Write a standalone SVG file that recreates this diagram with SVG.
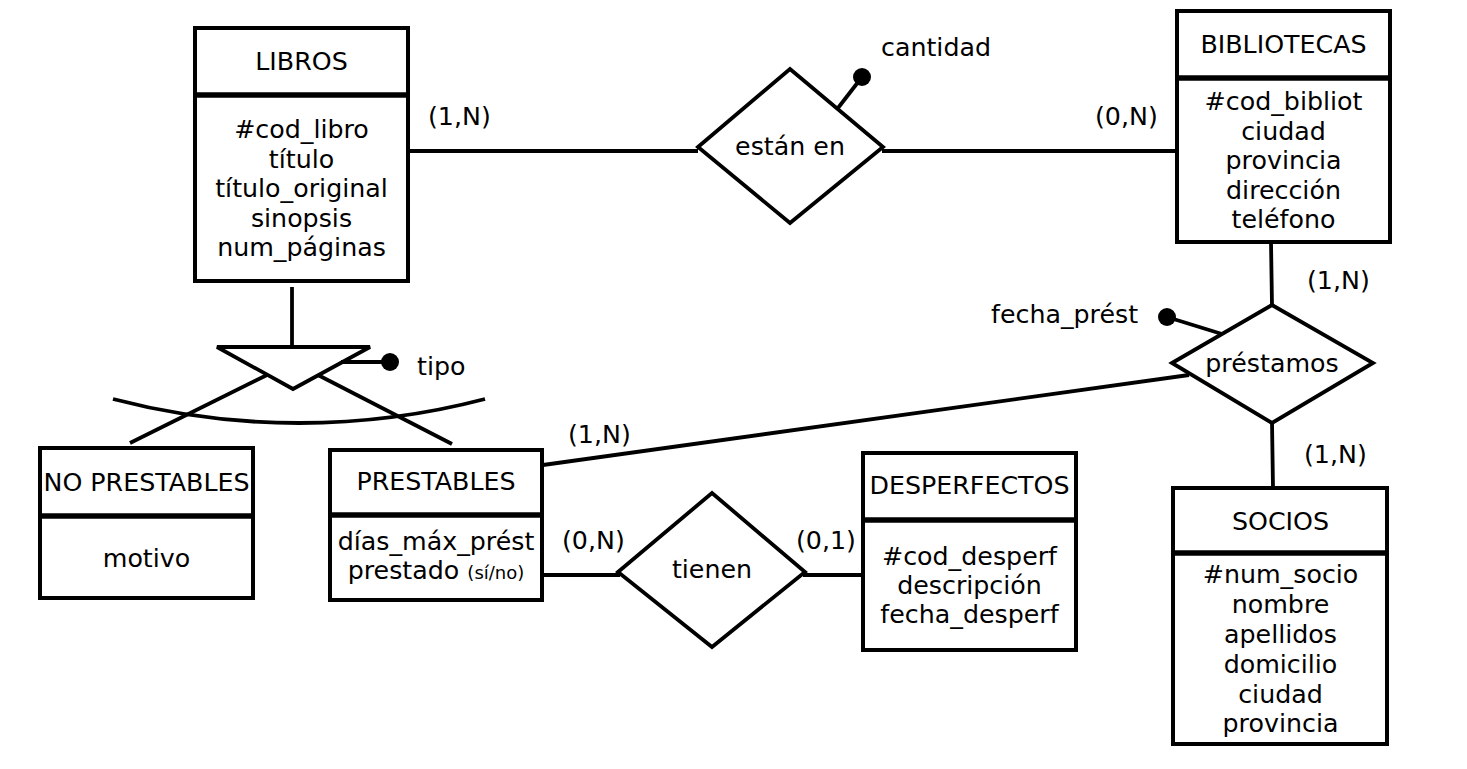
<svg xmlns="http://www.w3.org/2000/svg" width="1467" height="769" viewBox="0 0 1467 769">
<style>
text{font-family:"DejaVu Sans","Liberation Sans",sans-serif;font-size:25.3px;fill:#000}
.c{text-anchor:middle}
.box{fill:#fff;stroke:#000;stroke-width:4}
.div{stroke:#000;stroke-width:5.5}
.ln{stroke:#000;stroke-width:3.8;fill:none}
.dia{fill:#fff;stroke:#000;stroke-width:3.8;stroke-linejoin:miter}
.dot{fill:#000}
.sm{font-size:18px}
</style>
<rect width="1467" height="769" fill="#fff"/>
<g id="connectors">
<line class="ln" x1="408" y1="151" x2="698" y2="151"/>
<line class="ln" x1="882" y1="151" x2="1177" y2="151"/>
<line class="ln" x1="838" y1="108" x2="862" y2="77"/>
<line class="ln" x1="1271" y1="242" x2="1272" y2="306"/>
<line class="ln" x1="1272" y1="422" x2="1273" y2="488"/>
<line class="ln" x1="1167" y1="317" x2="1222" y2="334"/>
<line class="ln" x1="543" y1="465" x2="1189" y2="375"/>
<line class="ln" x1="542" y1="575" x2="620" y2="575"/>
<line class="ln" x1="803" y1="575" x2="863" y2="575"/>
<line class="ln" x1="292" y1="287" x2="292" y2="347"/>
<line class="ln" x1="267" y1="375" x2="130" y2="443"/>
<line class="ln" x1="318" y1="375" x2="452" y2="444"/>
<line class="ln" x1="337" y1="362" x2="390" y2="362"/>
<path class="ln" d="M113 399 A733 733 0 0 0 485 399"/>
</g>
<g id="isa">
<polygon class="dia" points="217,347 370,347 293,389"/>
<line class="ln" x1="341" y1="362" x2="390" y2="362"/>
<circle class="dot" cx="390" cy="362" r="9"/>
<text x="417" y="375">tipo</text>
</g>
<g id="libros">
<rect class="box" x="195" y="28" width="213" height="253"/>
<line class="div" x1="195" y1="95" x2="408" y2="95"/>
<text class="c" x="301.5" y="70">LIBROS</text>
<text class="c" x="301.5" y="138">#cod_libro</text>
<text class="c" x="301.5" y="167.5">título</text>
<text class="c" x="301.5" y="197">título_original</text>
<text class="c" x="301.5" y="226.5">sinopsis</text>
<text class="c" x="301.5" y="256">num_páginas</text>
</g>
<g id="bibliotecas">
<rect class="box" x="1177" y="11" width="213" height="231"/>
<line class="div" x1="1177" y1="78" x2="1390" y2="78"/>
<text class="c" x="1283.5" y="53">BIBLIOTECAS</text>
<text class="c" x="1283.5" y="110">#cod_bibliot</text>
<text class="c" x="1283.5" y="139.5">ciudad</text>
<text class="c" x="1283.5" y="169">provincia</text>
<text class="c" x="1283.5" y="198.5">dirección</text>
<text class="c" x="1283.5" y="228">teléfono</text>
</g>
<g id="estan_en">
<polygon class="dia" points="698,147 790,69 883,147 790,223"/>
<text class="c" x="790" y="155">están en</text>
<circle class="dot" cx="862" cy="77" r="9"/>
<text x="881" y="56">cantidad</text>
</g>
<g id="prestamos">
<polygon class="dia" points="1172,363 1272,305 1373,363 1272,423"/>
<text class="c" x="1272" y="372">préstamos</text>
<circle class="dot" cx="1167" cy="317" r="9"/>
<text x="991" y="323">fecha_prést</text>
</g>
<g id="socios">
<rect class="box" x="1173" y="488" width="214" height="256"/>
<line class="div" x1="1173" y1="553" x2="1387" y2="553"/>
<text class="c" x="1280.5" y="530">SOCIOS</text>
<text class="c" x="1280.5" y="583">#num_socio</text>
<text class="c" x="1280.5" y="613">nombre</text>
<text class="c" x="1280.5" y="643">apellidos</text>
<text class="c" x="1280.5" y="673">domicilio</text>
<text class="c" x="1280.5" y="702.5">ciudad</text>
<text class="c" x="1280.5" y="732">provincia</text>
</g>
<g id="no_prestables">
<rect class="box" x="40" y="448" width="213" height="150"/>
<line class="div" x1="40" y1="516" x2="253" y2="516"/>
<text class="c" x="146.5" y="491">NO PRESTABLES</text>
<text class="c" x="146.5" y="567">motivo</text>
</g>
<g id="prestables">
<rect class="box" x="330" y="450" width="212" height="150"/>
<line class="div" x1="330" y1="515" x2="542" y2="515"/>
<text class="c" x="436" y="490">PRESTABLES</text>
<text class="c" x="436" y="550">días_máx_prést</text>
<text class="c" x="436" y="579">prestado <tspan class="sm">(sí/no)</tspan></text>
</g>
<g id="tienen">
<polygon class="dia" points="618,572 712,493 805,572 712,647"/>
<text class="c" x="712" y="578">tienen</text>
</g>
<g id="desperfectos">
<rect class="box" x="863" y="453" width="213" height="197"/>
<line class="div" x1="863" y1="520" x2="1076" y2="520"/>
<text class="c" x="969.5" y="494">DESPERFECTOS</text>
<text class="c" x="969.5" y="565">#cod_desperf</text>
<text class="c" x="969.5" y="594">descripción</text>
<text class="c" x="969.5" y="623">fecha_desperf</text>
</g>
<g id="labels">
<text x="428" y="125">(1,N)</text>
<text x="1095" y="125">(0,N)</text>
<text x="1307" y="289">(1,N)</text>
<text x="1304" y="463">(1,N)</text>
<text x="568" y="443">(1,N)</text>
<text x="562" y="549">(0,N)</text>
<text x="796" y="549">(0,1)</text>
</g>
</svg>
